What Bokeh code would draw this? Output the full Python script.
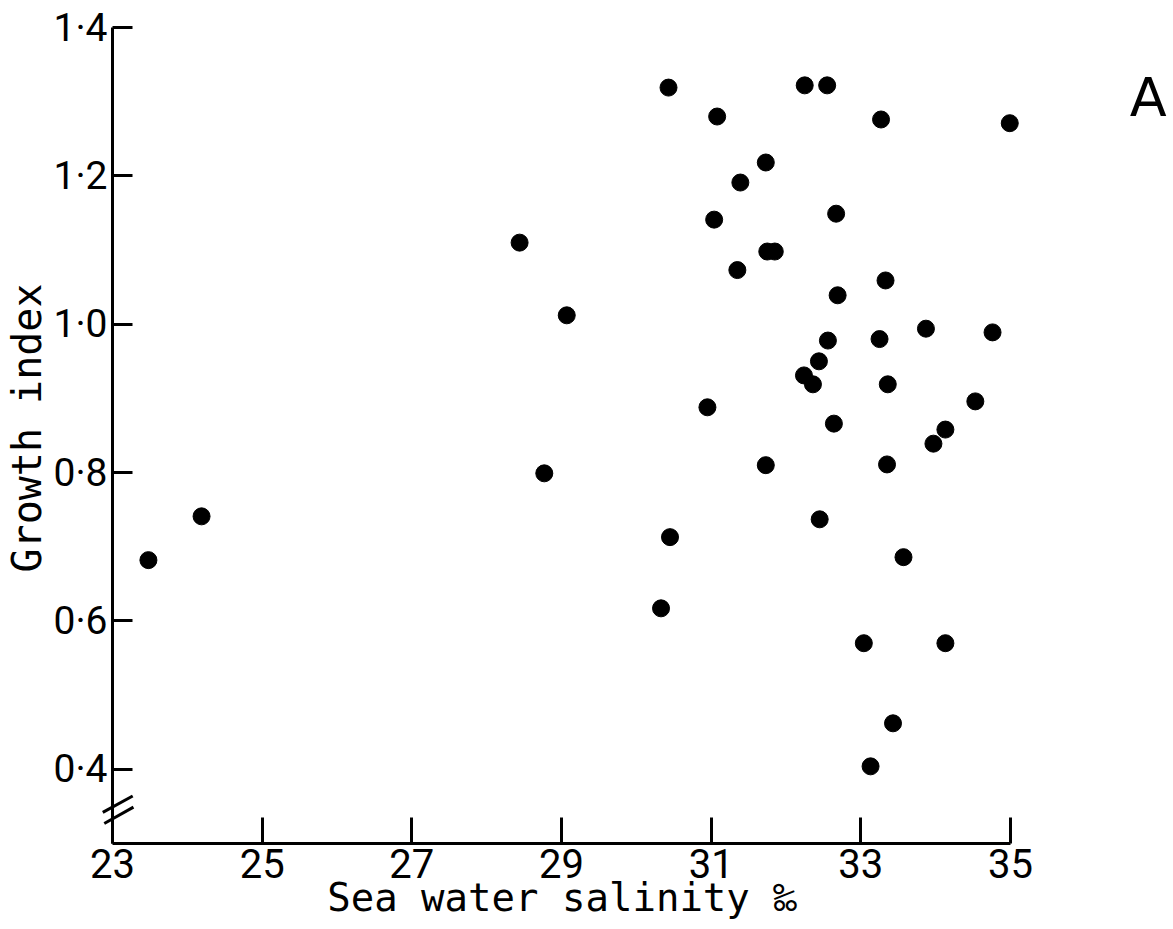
from bokeh.plotting import figure
from bokeh.models import FixedTicker, Range1d
from bokeh.core.properties import value
from bokeh.embed import file_html
from bokeh.resources import INLINE

# ---- data ----
salinity = [23.48, 24.19, 28.44, 29.07, 28.77, 30.45, 30.33, 30.43, 32.25, 32.55,
            31.08, 33.27, 34.99, 31.73, 31.39, 31.04, 32.67, 31.75, 31.85, 31.35,
            33.33, 32.69, 32.56, 33.25, 32.44, 32.24, 32.36, 33.36, 30.95, 32.64,
            31.73, 33.35, 33.87, 34.76, 34.53, 34.13, 33.97, 32.45, 33.57, 33.04,
            34.13, 33.43, 33.13]
growth = [0.682, 0.741, 1.110, 1.012, 0.799, 0.713, 0.617, 1.319, 1.322, 1.322,
          1.280, 1.276, 1.271, 1.218, 1.191, 1.141, 1.149, 1.098, 1.098, 1.073,
          1.059, 1.039, 0.978, 0.980, 0.950, 0.931, 0.919, 0.919, 0.888, 0.866,
          0.810, 0.811, 0.994, 0.989, 0.896, 0.858, 0.839, 0.737, 0.686, 0.570,
          0.570, 0.462, 0.404]

x_ticks = [23, 25, 27, 29, 31, 33, 35]
x_tick_labels = ["23", "25", "27", "29", "31", "33", "35"]
y_ticks = [0.4, 0.6, 0.8, 1.0, 1.2, 1.4]
y_tick_labels = ["0·4", "0·6", "0·8", "1·0", "1·2", "1·4"]
x_title = "Sea water salinity ‰"
y_title = "Growth index"
panel_label = "A"

# axis extents (y axis is broken below 0.4)
x_axis_min, x_axis_max = 23, 35
y_axis_min, y_axis_max = 0.30, 1.4

W, H = 1173, 929
L, T, B = 112, 12, 86
R = W - 1011
y_px_per_unit = (843 - 27) / 1.1
fh = H - T - B
y_end = y_axis_min + fh / y_px_per_unit
x_end = x_axis_max + 1.0 / ((1011 - 112) / 12.0)

tick_font = "Roboto"
title_font = "DejaVu Sans Mono"

p = figure(width=W, height=H, output_backend="svg", toolbar_location=None,
           x_range=Range1d(x_axis_min, x_end), y_range=Range1d(y_axis_min, y_end),
           min_border_left=L, min_border_right=R, min_border_top=T, min_border_bottom=B)
p.outline_line_color = None
p.grid.visible = False
p.background_fill_color = "white"
p.border_fill_color = "white"

pts = p.scatter(salinity, growth, size=17, color="black", line_color="black")
pts.level = "overlay"

# x axis
xa = p.xaxis[0]
xa.ticker = FixedTicker(ticks=x_ticks)
xa.major_label_overrides = {t: s for t, s in zip(x_ticks, x_tick_labels)}
xa.bounds = (x_axis_min, x_axis_max)
xa.axis_line_width = 3
xa.axis_line_color = "black"
xa.major_tick_line_width = 3
xa.major_tick_line_color = "black"
xa.major_tick_in = 26
xa.major_tick_out = 0
xa.minor_tick_line_color = None
xa.major_label_standoff = 5
xa.major_label_text_font = tick_font
xa.major_label_text_font_size = "40px"
xa.major_label_text_color = "black"
xa.axis_label = x_title
xa.axis_label_text_font = title_font
xa.axis_label_text_font_size = "39px"
xa.axis_label_text_font_style = "normal"
xa.axis_label_text_color = "black"
xa.axis_label_standoff = -6

# y axis
ya = p.yaxis[0]
ya.ticker = FixedTicker(ticks=y_ticks)
ya.major_label_overrides = {t: s for t, s in zip(y_ticks, y_tick_labels)}
ya.bounds = (y_axis_min, y_axis_max)
ya.axis_line_width = 3
ya.axis_line_color = "black"
ya.major_tick_line_width = 3
ya.major_tick_line_color = "black"
ya.major_tick_in = 20
ya.major_tick_out = 0
ya.minor_tick_line_color = None
ya.major_label_standoff = 5
ya.major_label_text_font = tick_font
ya.major_label_text_font_size = "39px"
ya.major_label_text_color = "black"
ya.major_label_orientation = "horizontal"
ya.axis_label = y_title
ya.axis_label_text_font = title_font
ya.axis_label_text_font_size = "40px"
ya.axis_label_text_font_style = "normal"
ya.axis_label_text_color = "black"
ya.axis_label_standoff = 0

# axis-break marks on the y axis
brk_x0 = [22.87, 22.89]
brk_y0 = [0.342, 0.327]
brk_x1 = [23.27, 23.28]
brk_y1 = [0.364, 0.349]
sr = p.segment(brk_x0, brk_y0, brk_x1, brk_y1, line_color="black", line_width=3)
sr.level = "overlay"

# panel letter
lab_x = [36.84]
lab_y = [1.306]
tr = p.text(x=lab_x, y=lab_y, text=[panel_label], text_font=value("DejaVu Sans"),
            text_font_size="54px", text_align="center", text_baseline="middle",
            text_color="black")
tr.level = "overlay"

open("out.html", "w").write(file_html(p, INLINE))
